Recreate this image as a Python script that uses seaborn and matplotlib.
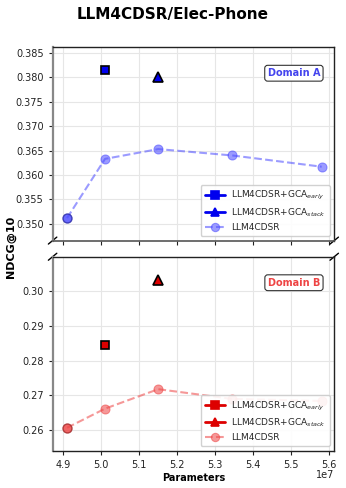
import matplotlib
matplotlib.use("Agg")
import matplotlib.pyplot as plt
import seaborn as sns
import pandas as pd
import numpy as np

# Data
params = [4.91e7, 5.01e7, 5.15e7, 5.345e7, 5.58e7]
base_a = [0.3512, 0.3633, 0.3653, 0.3640, 0.3617]
base_b = [0.2607, 0.2662, 0.2718, 0.2690, 0.2684]
early_x = [5.01e7]
stack_x = [5.15e7]
early_a = [0.3815]
stack_a = [0.3800]
early_b = [0.2845]
stack_b = [0.3033]

sns.set_style("whitegrid")
plt.rcParams['font.family'] = ['DejaVu Sans']

fig = plt.figure(figsize=(3.46, 4.88), dpi=100)
ax1 = fig.add_axes([0.152, 0.507, 0.814, 0.396])
ax2 = fig.add_axes([0.152, 0.0764, 0.814, 0.3975])

def draw(ax, base, early, stack, mcol, lcol, dcol, label, lcolor):
    df = pd.DataFrame({"x": params, "y": base})
    sns.lineplot(data=df, x="x", y="y", ax=ax, color=lcol, linestyle="--", lw=1.5,
                 marker="o", markersize=6.5, alpha=0.55, markeredgecolor=lcol,
                 label="LLM4CDSR", zorder=2)
    # overlapping start point (darker)
    d0 = pd.DataFrame({"x": params[:1], "y": base[:1]})
    sns.scatterplot(data=d0, x="x", y="y", ax=ax, color=lcol, s=42, alpha=0.6,
                    edgecolor=dcol, linewidth=1.0, zorder=3, legend=False)
    de = pd.DataFrame({"x": early_x, "y": early})
    ds = pd.DataFrame({"x": stack_x, "y": stack})
    sns.lineplot(data=de, x="x", y="y", ax=ax, color=mcol, marker="s", markersize=6.3,
                 markeredgecolor="black", markeredgewidth=1.2, lw=2,
                 label=r"LLM4CDSR+GCA$_{early}$", zorder=4)
    sns.lineplot(data=ds, x="x", y="y", ax=ax, color=mcol, marker="^", markersize=7,
                 markeredgecolor="black", markeredgewidth=1.2, lw=2,
                 label=r"LLM4CDSR+GCA$_{stack}$", zorder=4)
    h, l = ax.get_legend_handles_labels()
    order = [1, 2, 0]
    leg = ax.legend([h[i] for i in order], [l[i] for i in order], loc="lower right",
                    fontsize=6.5, frameon=True, borderpad=0.45, handlelength=2.2,
                    labelspacing=0.45, handletextpad=0.7)
    leg.get_frame().set_edgecolor("#cccccc")
    leg.get_frame().set_alpha(0.9)
    for lh in leg.legend_handles:
        lh.set_markeredgecolor(lh.get_color())
        lh.set_markersize(6)
    ax.text(0.95, 0.866, label, transform=ax.transAxes, ha="right", va="center",
            fontsize=7, fontweight="bold", color=lcolor,
            bbox=dict(boxstyle="round,pad=0.3", fc="white", ec="#333333", lw=0.8))
    ax.set_xlabel("")
    ax.set_ylabel("")
    ax.grid(True, color="#e6e6e6", lw=0.8)
    ax.tick_params(axis="both", labelsize=7, length=3, width=0.8, colors="#222222",
                   bottom=True, left=True)

draw(ax1, base_a, early_a, stack_a, "#0000ee", "#4a4aff", "#222288", "Domain A", "#4444ee")
draw(ax2, base_b, early_b, stack_b, "#dd0000", "#ee4444", "#882222", "Domain B", "#ee4444")

ax1.set_xlim(4.872e7, 5.613e7)
ax2.set_xlim(4.872e7, 5.613e7)
ax1.set_ylim(0.3466, 0.3861)
ax2.set_ylim(0.2541, 0.3099)
ax1.set_yticks([0.350, 0.355, 0.360, 0.365, 0.370, 0.375, 0.380, 0.385])
ax1.set_yticklabels(["0.350", "0.355", "0.360", "0.365", "0.370", "0.375", "0.380", "0.385"])
ax2.set_yticks([0.26, 0.27, 0.28, 0.29, 0.30])
ax2.set_yticklabels(["0.26", "0.27", "0.28", "0.29", "0.30"])
xt = [4.9e7, 5.0e7, 5.1e7, 5.2e7, 5.3e7, 5.4e7, 5.5e7, 5.6e7]
ax1.set_xticks(xt)
ax2.set_xticks(xt)
ax1.set_xticklabels([])
ax2.set_xticklabels(["4.9", "5.0", "5.1", "5.2", "5.3", "5.4", "5.5", "5.6"])
ax2.text(1.0, -0.1, "1e7", transform=ax2.transAxes, ha="right", va="top", fontsize=7,
         color="#222222")

for ax in (ax1, ax2):
    for s in ("top", "right"):
        ax.spines[s].set_color("#222222")
        ax.spines[s].set_linewidth(1.0)
    ax.spines["left"].set_color("#888888")
    ax.spines["left"].set_linewidth(1.6)
    ax.spines["bottom"].set_color("#555555")
    ax.spines["bottom"].set_linewidth(1.2)
ax2.spines["bottom"].set_color("#222222")
ax2.spines["bottom"].set_linewidth(1.0)

# break marks
d = 0.015
kw = dict(color="k", clip_on=False, lw=1)
ax1.plot((-d, +d), (-d * 1.2, +d * 1.2), transform=ax1.transAxes, **kw)
ax1.plot((1 - d, 1 + d), (-d * 1.2, +d * 1.2), transform=ax1.transAxes, **kw)
ax2.plot((-d, +d), (1 - d * 1.2, 1 + d * 1.2), transform=ax2.transAxes, **kw)
ax2.plot((1 - d, 1 + d), (1 - d * 1.2, 1 + d * 1.2), transform=ax2.transAxes, **kw)

ax2.set_xlabel("Parameters", fontsize=7, fontweight="bold", labelpad=2, color="black")
fig.text(0.03, 0.495, "NDCG@10", rotation=90, ha="center", va="center",
         fontsize=8, fontweight="bold", color="black")
fig.suptitle("LLM4CDSR/Elec-Phone", fontsize=11, fontweight="bold", y=0.985, color="black")

fig.savefig("out.png", dpi=100)
